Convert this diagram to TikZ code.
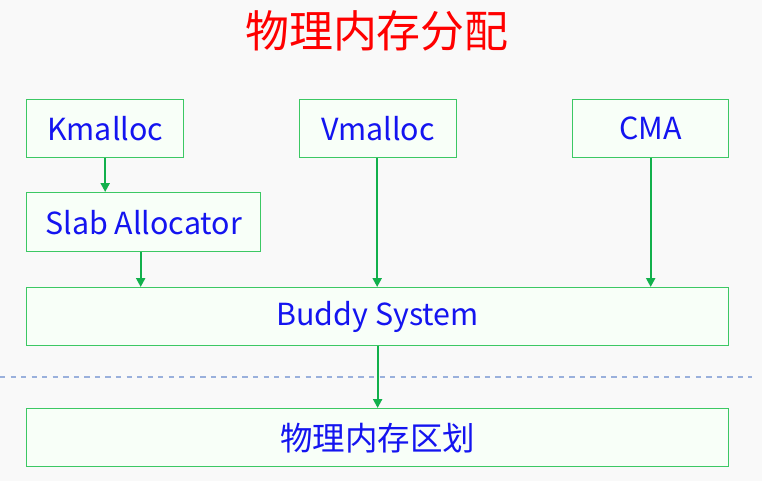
\documentclass[tikz,border=0pt]{standalone}
\usepackage{fontspec}
\setmainfont{Noto Sans CJK SC}
\usetikzlibrary{positioning,arrows.meta}

\definecolor{boxgreen}{HTML}{3CC864}
\definecolor{boxfill}{HTML}{F8FFF8}
\definecolor{arrgreen}{HTML}{12B04C}
\definecolor{txtblue}{HTML}{1414F0}
\definecolor{dashblue}{HTML}{9AB0DC}
\definecolor{bgcol}{HTML}{F9F9F9}

\tikzset{
    membox/.style={draw=boxgreen, fill=boxfill, line width=0.8pt, text=txtblue,
        font=\fontsize{17.3}{20}\selectfont, inner sep=0pt, anchor=north west},
    arr/.style={-{Triangle[length=5pt,width=5pt]}, arrgreen, line width=1.2pt}
}

\begin{document}
\begin{tikzpicture}[x=0.02cm, y=-0.02cm]

    \fill[bgcol] (0,0) rectangle (762,481);
    \useasboundingbox (0,0) rectangle (762,481);

    \node[text=red, font=\fontsize{25}{29}\selectfont] (title) at (377,31) {物理内存分配};

    \node[membox, minimum width=3.14cm, minimum height=1.16cm] (kmalloc) at (26,99) {Kmalloc};
    \node[membox, minimum width=3.14cm, minimum height=1.16cm] (vmalloc) at (299,99) {Vmalloc};
    \node[membox, minimum width=3.12cm, minimum height=1.16cm] (cma) at (572,99) {CMA};
    \node[membox, minimum width=4.68cm, minimum height=1.18cm] (slab) at (26,192) {Slab Allocator};
    \node[membox, minimum width=14.04cm, minimum height=1.16cm] (buddy) at (26,287) {Buddy System};
    \node[membox, minimum width=14.04cm, minimum height=1.16cm,
        font=\fontsize{18.5}{21}\selectfont] (zone) at (26,408) {物理内存区划};

    \coordinate (dl) at (0,377);
    \coordinate (dr) at (752,377);
    \draw[dashblue, dashed, line width=0.6pt] (dl) -- (dr);

    \draw[arr] (kmalloc.south) -- (kmalloc.south |- slab.north);
    \draw[arr] ([xshift=-0.06cm]slab.south) -- ([xshift=-0.06cm]slab.south |- buddy.north);
    \draw[arr] ([xshift=-0.02cm]vmalloc.south) -- ([xshift=-0.02cm]vmalloc.south |- buddy.north);
    \draw[arr] (cma.south) -- (cma.south |- buddy.north);
    \draw[arr] (buddy.south) -- (zone.north);

\end{tikzpicture}
\end{document}
